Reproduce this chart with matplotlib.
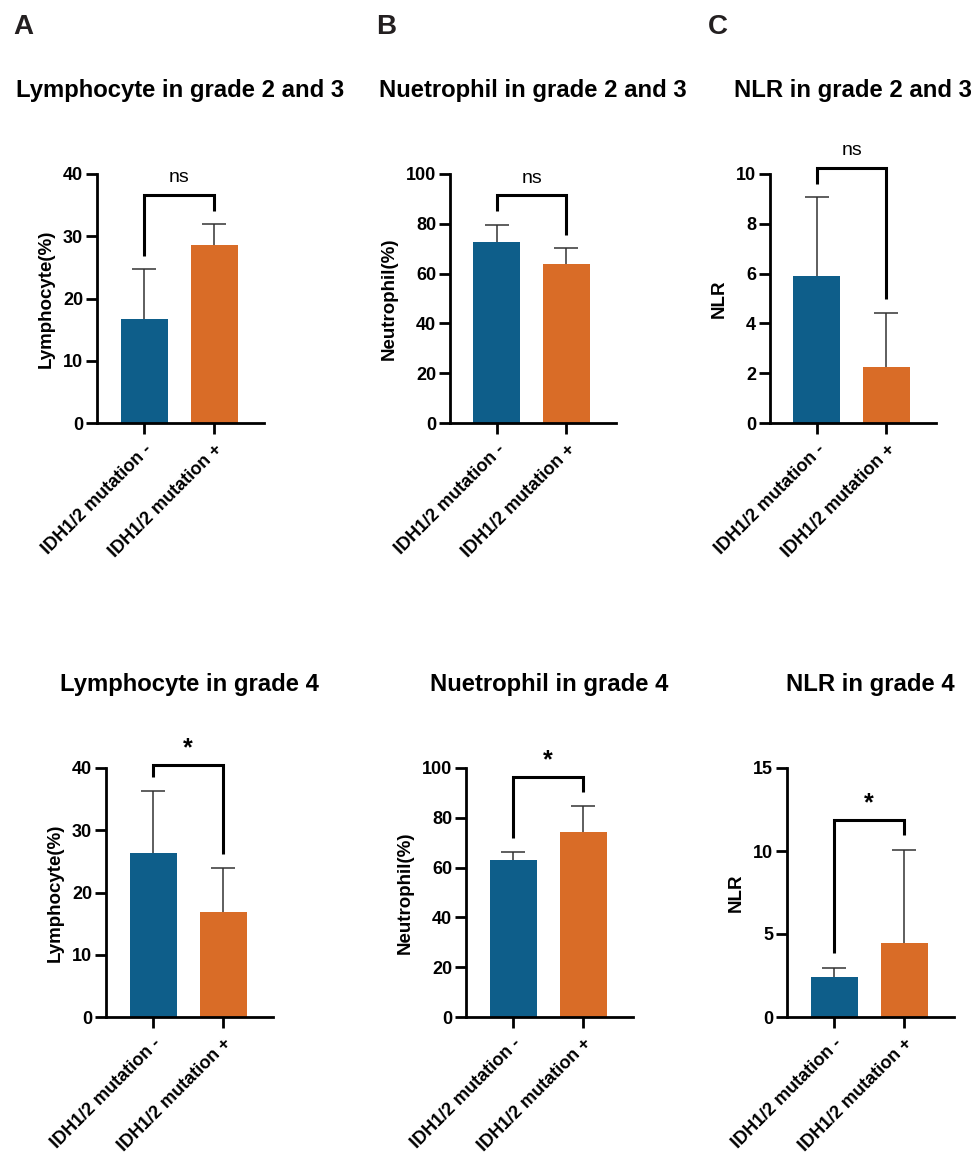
import matplotlib

matplotlib.use("Agg")

import matplotlib.pyplot as plt
import numpy as np

plt.rcParams["font.family"] = ["Liberation Sans", "DejaVu Sans"]

W, H = 972, 1157

CATEGORIES = ["IDH1/2 mutation -", "IDH1/2 mutation +"]
BLUE = "#0e5e8a"
ORANGE = "#d96c27"

# grade 2 and 3
lym_g23_mean = [16.7, 28.6]
lym_g23_sd = [8.0, 3.3]
neu_g23_mean = [72.8, 63.8]
neu_g23_sd = [6.9, 6.5]
nlr_g23_mean = [5.9, 2.24]
nlr_g23_sd = [3.19, 2.16]

# grade 4
lym_g4_mean = [26.3, 16.9]
lym_g4_sd = [10.0, 7.0]
neu_g4_mean = [63.1, 74.3]
neu_g4_sd = [3.2, 10.4]
nlr_g4_mean = [2.41, 4.46]
nlr_g4_sd = [0.54, 5.6]

# significance brackets: (top, left leg end, right leg end, label)
brackets = [
    (36.7, 26.9, 34.1, "ns"),
    (91.6, 85.3, 75.4, "ns"),
    (10.26, 9.6, 4.96, "ns"),
    (40.5, 38.6, 26.2, "*"),
    (96.4, 71.9, 90.4, "*"),
    (11.87, 3.86, 10.96, "*"),
]

titles = [
    "Lymphocyte in grade 2 and 3",
    "Nuetrophil in grade 2 and 3",
    "NLR in grade 2 and 3",
    "Lymphocyte in grade 4",
    "Nuetrophil in grade 4",
    "NLR in grade 4",
]
ylabels = ["Lymphocyte(%)", "Neutrophil(%)", "NLR"] * 2
yticks = [
    np.arange(0, 41, 10),
    np.arange(0, 101, 20),
    np.arange(0, 11, 2),
    np.arange(0, 41, 10),
    np.arange(0, 101, 20),
    np.arange(0, 16, 5),
]
means = [lym_g23_mean, neu_g23_mean, nlr_g23_mean, lym_g4_mean, neu_g4_mean, nlr_g4_mean]
sds = [lym_g23_sd, neu_g23_sd, nlr_g23_sd, lym_g4_sd, neu_g4_sd, nlr_g4_sd]

# axes boxes in pixels: left, right, top, bottom
boxes = [
    (97, 264, 174, 423),
    (450, 616, 174, 423),
    (770, 936, 174, 423),
    (106, 273, 768, 1017),
    (466, 633, 768, 1017),
    (787, 954, 768, 1017),
]
title_y = [91, 91, 91, 685, 685, 685]
panel_letters = [("A", 13), ("B", 376), ("C", 708)]


def _axes(fig, box):
    left, right, top, bottom = box
    return fig.add_axes([left / W, 1 - bottom / H, (right - left) / W, (bottom - top) / H])


fig = plt.figure(figsize=(W / 100, H / 100), dpi=100)

for i in range(6):
    ax = _axes(fig, boxes[i])
    x = np.arange(len(CATEGORIES))
    ax.bar(x, means[i], width=0.67, color=[BLUE, ORANGE], zorder=2)
    _, caps, _ = ax.errorbar(x, means[i], yerr=[[0, 0], sds[i]], fmt="none", ecolor="#333333",
                             elinewidth=1.1, capsize=8.6, capthick=1.1, zorder=1)
    # only the upper whisker gets a cap
    caps[0].set_visible(False)

    ax.set_xlim(-0.67, 1.71)
    ax.set_ylim(0, yticks[i][-1])
    ax.set_yticks(yticks[i])
    ax.set_xticks(x)
    ax.set_xticklabels(CATEGORIES, rotation=45, ha="right", rotation_mode="anchor",
                       fontsize=13, fontweight="bold")
    for lab in ax.get_yticklabels():
        lab.set_fontsize(13)
        lab.set_fontweight("bold")
    ax.tick_params(axis="both", length=8, width=2, pad=2)
    ax.tick_params(axis="x", pad=5)
    for side in ("top", "right"):
        ax.spines[side].set_visible(False)
    for side in ("left", "bottom"):
        ax.spines[side].set_linewidth(2)
    ax.set_ylabel(ylabels[i], fontsize=13.5, fontweight="bold", labelpad=6)

    top, left_end, right_end, label = brackets[i]
    ax.plot([0, 0, 1, 1], [left_end, top, top, right_end], color="black",
            linewidth=2.2, clip_on=False, solid_capstyle="butt", solid_joinstyle="miter")
    if label == "ns":
        ax.annotate(label, (0.5, top), xytext=(0, 6), textcoords="offset points",
                    ha="center", va="bottom", fontsize=14, annotation_clip=False)
    else:
        ax.annotate(label, (0.5, top), xytext=(0, 3), textcoords="offset points",
                    ha="center", va="bottom", fontsize=18, fontweight="bold",
                    annotation_clip=False)

    left, right, _, _ = boxes[i]
    fig.text((left + right) / 2 / W, 1 - title_y[i] / H, titles[i], ha="center", va="center",
             fontsize=17.2, fontweight="bold")

for letter, px in panel_letters:
    fig.text(px / W, 1 - 27 / H, letter, ha="left", va="center", fontsize=20, fontweight="bold",
             color="#231f20")

fig.savefig("out.png", dpi=100)
